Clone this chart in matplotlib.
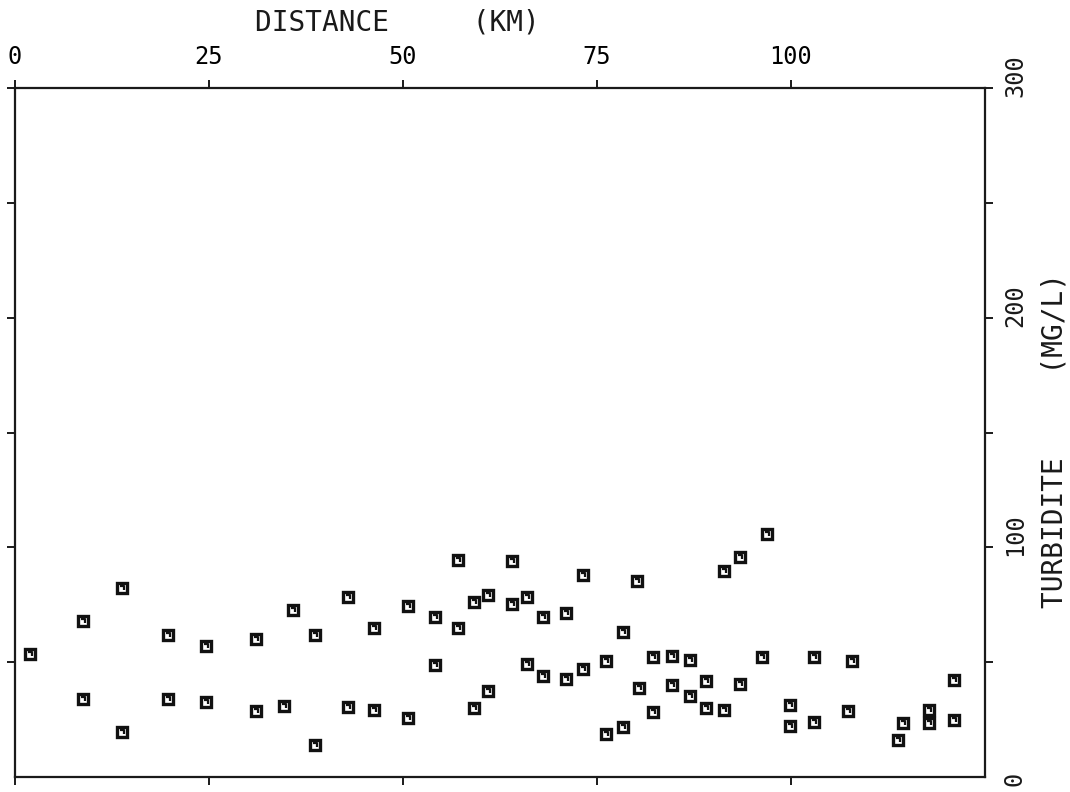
import matplotlib.pyplot as plt
from matplotlib.path import Path
from matplotlib.transforms import offset_copy

# sampling stations: distance along the river (km) and turbidity (mg/L)
distance = [1.9, 8.8, 8.8, 13.8, 13.8, 19.7, 19.7, 24.6, 24.6, 31.0,
            31.0, 34.7, 35.8, 38.7, 38.7, 42.9, 42.9, 46.2, 46.2, 50.6,
            50.6, 54.1, 54.1, 57.1, 57.1, 59.1, 59.1, 61.0, 61.0, 64.1,
            64.1, 66.0, 66.0, 68.1, 68.1, 71.0, 71.0, 73.2, 73.2, 76.2,
            76.2, 78.4, 78.4, 80.2, 80.4, 82.2, 82.2, 84.7, 84.7, 87.0,
            87.0, 89.1, 89.1, 91.4, 91.4, 93.4, 93.4, 96.3, 96.9, 99.9,
            99.9, 103.0, 103.0, 107.3, 107.8, 113.8, 114.4, 117.8, 117.8, 121.0,
            121.0]
turbidity = [53.5, 67.8, 33.9, 82.2, 19.6, 61.7, 33.9, 57.0, 32.6, 60.0,
             28.7, 30.9, 72.6, 61.7, 13.9, 78.3, 30.4, 64.8, 29.1, 74.3,
             25.7, 69.6, 48.7, 94.3, 64.8, 76.1, 30.0, 79.1, 37.4, 93.9,
             75.2, 78.3, 49.1, 69.6, 43.9, 71.3, 42.6, 87.8, 47.0, 50.4,
             18.7, 63.0, 21.7, 85.2, 38.7, 52.2, 28.3, 52.6, 40.0, 50.9,
             35.2, 41.7, 30.0, 89.6, 29.1, 95.7, 40.4, 52.2, 105.7, 31.3,
             22.2, 52.2, 23.9, 28.7, 50.4, 16.1, 23.5, 29.1, 23.5, 42.2,
             24.8]

x_ticks = [0, 25, 50, 75, 100]
y_ticks = [50, 100, 150, 200, 250, 300]
y_labels = [0, 100, 200, 300]

plt.rcParams['font.family'] = 'DejaVu Sans Mono'

fig = plt.figure(figsize=(10.7, 7.92), dpi=100)
ax = fig.add_axes([15 / 1070, 15 / 792, 970 / 1070, 689 / 792])

# small hook drawn inside each square symbol
hook = Path([(-0.35, 0.3), (0.3, 0.3), (0.3, -0.35)],
            [Path.MOVETO, Path.LINETO, Path.LINETO])

ax.plot(distance, turbidity, ls='none', marker='s', ms=7.4, mfc='white',
        mec='#111111', mew=2.4, zorder=3)
ax.plot(distance, turbidity, ls='none', marker=hook, ms=3.4, mfc='none',
        mec='#111111', mew=1.6, zorder=4)

ax.set_xlim(0, 125)
ax.set_ylim(0, 300)

for side in ['top', 'bottom', 'left', 'right']:
    ax.spines[side].set_linewidth(1.6)
    ax.spines[side].set_color('#1a1a1a')

ax.set_xticks(x_ticks)
ax.tick_params(axis='x', which='both', direction='out', top=True, bottom=True,
               labeltop=True, labelbottom=False, length=6, width=1.4,
               color='#1a1a1a', labelsize=17, pad=8)

ax.set_yticks(y_ticks)
ax.tick_params(axis='y', which='both', direction='out', left=True, right=True,
               labelleft=False, labelright=False, length=6, width=1.4,
               color='#1a1a1a')

# right-hand labels written upward, starting just below their tick
lab_trans = offset_copy(ax.get_yaxis_transform(), fig=fig, x=30, y=-9,
                        units='dots')
for v in y_labels:
    ax.text(1.0, v, str(v), transform=lab_trans, rotation=90,
            ha='center', va='bottom', fontsize=17, color='#1a1a1a')

fig.text(397 / 1070, 1 - 23 / 792, 'DISTANCE     (KM)', ha='center',
         va='center', fontsize=20, color='#1a1a1a')
fig.text(1055 / 1070, 1 - 440 / 792, 'TURBIDITE     (MG/L)', rotation=90,
         ha='center', va='center', fontsize=20, color='#1a1a1a')

fig.savefig('out.png', dpi=100, facecolor='white')
